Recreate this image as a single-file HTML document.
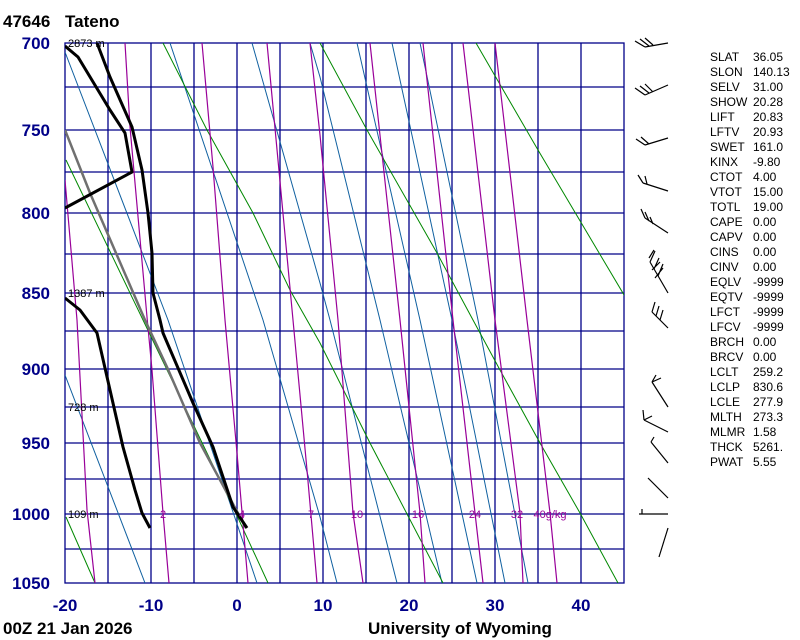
<!DOCTYPE html>
<html><head><meta charset="utf-8"><style>
body{margin:0;background:#fff;}
svg{display:block;font-family:"Liberation Sans",sans-serif;}
</style></head><body>
<svg width="800" height="640" viewBox="0 0 800 640" xmlns="http://www.w3.org/2000/svg">
<rect width="800" height="640" fill="#fff"/>
<g stroke="#000088" stroke-width="1.3" fill="none">
<rect x="65" y="43" width="559" height="540"/>
<path d="M65 87H624M65 130H624M65 172H624M65 213H624M65 254H624M65 293H624M65 331H624M65 369H624M65 407H624M65 443H624M65 479H624M65 514H624M65 549H624"/>
<path d="M108 43V583M151 43V583M194 43V583M237 43V583M280 43V583M323 43V583M366 43V583M409 43V583M452 43V583M495 43V583M538 43V583M581 43V583"/>
</g>
<clipPath id="c"><rect x="65" y="43" width="559" height="540"/></clipPath>
<g clip-path="url(#c)" fill="none">
<g stroke="#1060a0" stroke-width="1">
<polyline points="65,52 168,320 257,583"/>
<polyline points="65,375 145,583"/>
<polyline points="170,43 263,320 320,517 337,583"/>
<polyline points="252,43 320,283 330,320 397,583"/>
<polyline points="310,43 320,77 380,320 442,583"/>
<polyline points="357,43 420,320 477,583"/>
<polyline points="392,43 452,320 505,583"/>
<polyline points="420,43 478,320 528,583"/>
</g>
<g stroke="#008800" stroke-width="1">
<polyline points="163,43 207,130 253,213 290,290 320,343 370,443 443,583"/>
<polyline points="320,43 367,130 437,253 473,320 500,370 540,443 580,513 618,583"/>
<polyline points="476,43 538,150 630,305"/>
<polyline points="66,160 143,320 233,507 268,583"/>
<polyline points="66,517 95,583"/>
</g>
<g stroke="#990099" stroke-width="1.2">
<polyline points="65,180 77,320 87,510 95,583"/>
<polyline points="125,43 130,127 147,317 152,370 163,513 169,583"/>
<polyline points="202,43 213,167 225,320 237,453 248,583"/>
<polyline points="267,43 293,320 307,470 317,583"/>
<polyline points="310,43 320,135 338,320 353,513 363,583"/>
<polyline points="370,43 400,320 420,513 425,583"/>
<polyline points="423,43 453,320 475,513 483,583"/>
<polyline points="463,43 495,320 520,513 523,583"/>
<polyline points="495,43 527,320 550,513 557,583"/>
</g>
<polyline stroke="#707070" stroke-width="2.5" points="65,130 90,193 145,320 167,367 200,443 246,528"/>
<polyline stroke="#000" stroke-width="3" stroke-linejoin="round" points="97,43 110,77 132,127 142,170 148,213 152,253 153,293 160,320 163,333 193,403 213,447 233,507 247,528"/>
<polyline stroke="#000" stroke-width="3" stroke-linejoin="round" points="65,46 78,57 110,110 125,133 132,172 65,208"/>
<polyline stroke="#000" stroke-width="3" stroke-linejoin="round" points="65,298 80,310 97,333 110,390 123,447 135,490 142,513 150,528"/>
</g>
<g fill="#990099" font-size="11" text-anchor="middle">
<text x="163" y="518">2</text><text x="242" y="518">4</text><text x="311" y="518">7</text>
<text x="357" y="518">10</text><text x="418" y="518">16</text><text x="475" y="518">24</text>
<text x="517" y="518">32</text><text x="550" y="518">40g/kg</text>
</g>
<g fill="#000" font-size="11">
<text x="68" y="47">2873 m</text><text x="68" y="297">1387 m</text>
<text x="68" y="411">728 m</text><text x="68" y="518">109 m</text>
</g>
<g fill="#000088" font-size="17" font-weight="bold" text-anchor="end">
<text x="50" y="49">700</text><text x="50" y="136">750</text><text x="50" y="219">800</text>
<text x="50" y="299">850</text><text x="50" y="375">900</text><text x="50" y="449">950</text>
<text x="50" y="520">1000</text><text x="50" y="589">1050</text>
</g>
<g fill="#000088" font-size="17" font-weight="bold" text-anchor="middle">
<text x="65" y="611">-20</text><text x="151" y="611">-10</text><text x="237" y="611">0</text>
<text x="323" y="611">10</text><text x="409" y="611">20</text><text x="495" y="611">30</text><text x="581" y="611">40</text>
</g>
<g fill="#000" font-size="17" font-weight="bold">
<text x="3" y="27">47646</text><text x="65" y="27">Tateno</text>
<text x="3" y="634">00Z 21 Jan 2026</text>
<text x="368" y="634">University of Wyoming</text>
</g>
<g stroke="#000" stroke-width="1.2" fill="none">
<path d="M668,43 L645,47 M645,47 L635,41 M649,46 L640,39 M653,45 L645,38"/>
<path d="M668,85 L645,95 M645,95 L635,88 M649,93 L640,86 M653,92 L645,84"/>
<path d="M668,138 L645,145 M645,145 L636,139 M649,144 L641,137"/>
<path d="M668,191 L643,183 M643,183 L638,175 M647,184 L645,176"/>
<path d="M668,233 L645,218 M645,218 L641,209 M649,221 L645,212 M653,224 L650,217"/>
<path d="M668,293 L650,262 M650,262 L655,251 M654,269 L659,258 M658,276 L663,264 M652,270 L660,262 M655,278 L663,268 M649,258 L654,250"/>
<path d="M668,328 L652,312 M652,312 L655,302 M656,316 L659,306 M660,320 L663,310"/>
<path d="M668,407 L652,382 M652,382 L656,375 M652,382 L661,378"/>
<path d="M668,432 L644,420 M644,420 L643,410 M644,420 L652,416"/>
<path d="M668,463 L651,442 M651,442 L654,437"/>
<path d="M668,498 L648,478"/>
<path d="M668,514 L639,514 M642,514 L642,509"/>
<path d="M668,528 L659,557"/>
</g>
<g fill="#000" font-size="12">
<text x="710" y="61">SLAT</text><text x="753" y="61">36.05</text>
<text x="710" y="76">SLON</text><text x="753" y="76">140.13</text>
<text x="710" y="91">SELV</text><text x="753" y="91">31.00</text>
<text x="710" y="106">SHOW</text><text x="753" y="106">20.28</text>
<text x="710" y="121">LIFT</text><text x="753" y="121">20.83</text>
<text x="710" y="136">LFTV</text><text x="753" y="136">20.93</text>
<text x="710" y="151">SWET</text><text x="753" y="151">161.0</text>
<text x="710" y="166">KINX</text><text x="753" y="166">-9.80</text>
<text x="710" y="181">CTOT</text><text x="753" y="181">4.00</text>
<text x="710" y="196">VTOT</text><text x="753" y="196">15.00</text>
<text x="710" y="211">TOTL</text><text x="753" y="211">19.00</text>
<text x="710" y="226">CAPE</text><text x="753" y="226">0.00</text>
<text x="710" y="241">CAPV</text><text x="753" y="241">0.00</text>
<text x="710" y="256">CINS</text><text x="753" y="256">0.00</text>
<text x="710" y="271">CINV</text><text x="753" y="271">0.00</text>
<text x="710" y="286">EQLV</text><text x="753" y="286">-9999</text>
<text x="710" y="301">EQTV</text><text x="753" y="301">-9999</text>
<text x="710" y="316">LFCT</text><text x="753" y="316">-9999</text>
<text x="710" y="331">LFCV</text><text x="753" y="331">-9999</text>
<text x="710" y="346">BRCH</text><text x="753" y="346">0.00</text>
<text x="710" y="361">BRCV</text><text x="753" y="361">0.00</text>
<text x="710" y="376">LCLT</text><text x="753" y="376">259.2</text>
<text x="710" y="391">LCLP</text><text x="753" y="391">830.6</text>
<text x="710" y="406">LCLE</text><text x="753" y="406">277.9</text>
<text x="710" y="421">MLTH</text><text x="753" y="421">273.3</text>
<text x="710" y="436">MLMR</text><text x="753" y="436">1.58</text>
<text x="710" y="451">THCK</text><text x="753" y="451">5261.</text>
<text x="710" y="466">PWAT</text><text x="753" y="466">5.55</text>
</g>
</svg>
</body></html>
